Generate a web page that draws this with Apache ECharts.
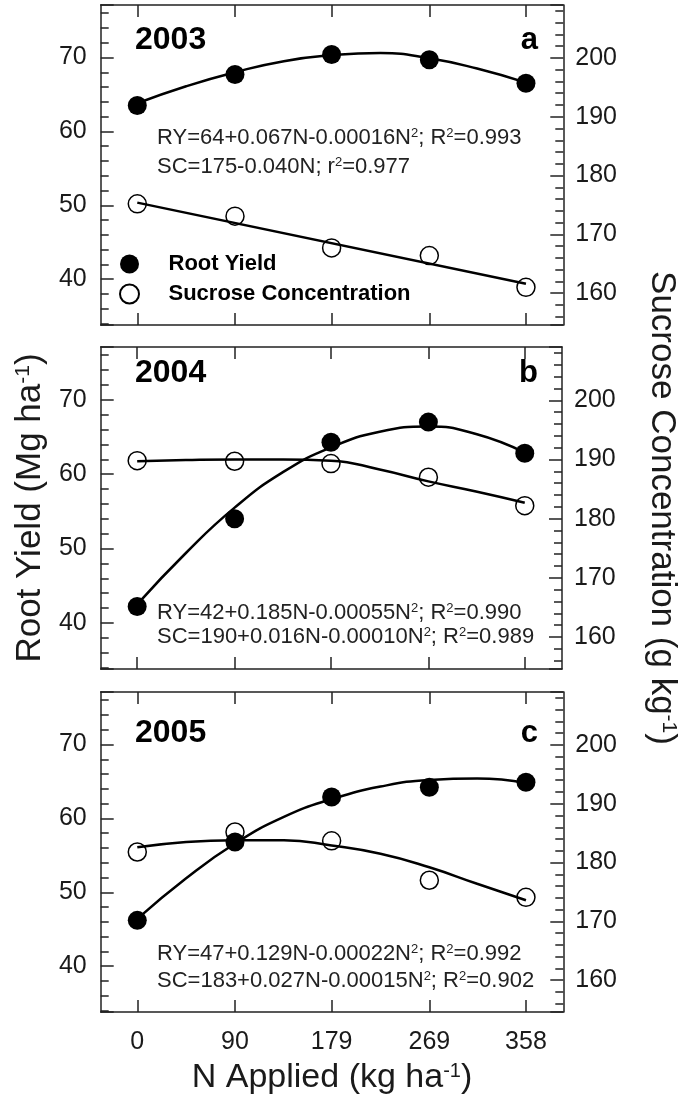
<!DOCTYPE html>
<html>
<head>
<meta charset="utf-8">
<script src="https://cdn.jsdelivr.net/npm/echarts@6/dist/echarts.min.js"></script>
<style>
  html, body { margin: 0; padding: 0; background: #fff; }
  #chart { width: 687px; height: 1098px; }
</style>
</head>
<body>
<div id="chart"></div>
<script>
// N rates (kg/ha) where the plots were measured
const nApplied = [0, 90, 179, 269, 358];
const fitN = [0, 45, 90, 135, 179, 224, 269, 313, 358];
const lineN = [0, 358];

// 2003
const rootYield2003 = [63.5, 67.7, 70.4, 69.7, 66.5];
const sucrose2003 = [175.2, 173.1, 167.7, 166.4, 161.0];
const rootYieldFit2003 = [63.8, 66.1, 68.0, 69.5, 70.3, 70.6, 69.9, 68.5, 66.6];
const sucroseFit2003 = [175.4, 161.6];

// 2004
const rootYield2004 = [42.2, 54.0, 64.3, 67.0, 62.8];
const sucrose2004 = [189.8, 189.7, 189.3, 187.0, 182.2];
const rootYieldFit2004 = [42.5, 49.4, 55.5, 60.3, 63.6, 65.7, 66.4, 65.4, 62.9];
const sucroseFit2004 = [189.7, 189.9, 190.0, 190.0, 189.8, 188.3, 186.3, 184.6, 182.7];

// 2005
const rootYield2005 = [46.2, 56.8, 62.9, 64.2, 64.9];
const sucrose2005 = [181.8, 185.2, 183.7, 177.0, 174.1];
const rootYieldFit2005 = [46.4, 51.9, 56.6, 60.2, 62.6, 64.3, 65.2, 65.4, 64.8];
const sucroseFit2005 = [182.6, 183.5, 183.8, 183.8, 182.9, 181.5, 179.2, 176.4, 173.6];

const years = ['2003', '2004', '2005'];
const panelLetters = ['a', 'b', 'c'];
const ryEquations = [
  '{n|RY=64+0.067N-0.00016N}{s|2}{n|; R}{s|2}{n|=0.993}',
  '{n|RY=42+0.185N-0.00055N}{s|2}{n|; R}{s|2}{n|=0.990}',
  '{n|RY=47+0.129N-0.00022N}{s|2}{n|; R}{s|2}{n|=0.992}'
];
const scEquations = [
  '{n|SC=175-0.040N; r}{s|2}{n|=0.977}',
  '{n|SC=190+0.016N-0.00010N}{s|2}{n|; R}{s|2}{n|=0.989}',
  '{n|SC=183+0.027N-0.00015N}{s|2}{n|; R}{s|2}{n|=0.902}'
];

const ryPoints = [rootYield2003, rootYield2004, rootYield2005];
const scPoints = [sucrose2003, sucrose2004, sucrose2005];
const ryFits = [rootYieldFit2003, rootYieldFit2004, rootYieldFit2005];
const scFits = [sucroseFit2003, sucroseFit2004, sucroseFit2005];
const scFitN = [lineN, fitN, fitN];

const FONT = 'Liberation Sans, Arial, Helvetica, sans-serif';
const INK = '#1a1a1a';
const panelTops = [5, 347, 692];
const panelHeights = [320, 322, 320];
const yearY = [40, 373, 733];
const eqY = [[138, 167], [613, 637], [954, 981]];

function zip(xs, ys) {
  return xs.map(function (x, i) { return [x, ys[i]]; });
}

function titleStyle(size) {
  return {
    rich: {
      t: { fontSize: size, color: INK, fontFamily: FONT },
      s: { fontSize: Math.round(size * 0.6), color: INK, fontFamily: FONT, verticalAlign: 'top' }
    }
  };
}

const axisLine = { show: true, onZero: false, lineStyle: { color: '#222', width: 1.5 } };
const tickLine = { color: '#222', width: 1.5 };

const grid = [];
const xAxis = [];
const yAxis = [];
const series = [];
const graphic = [];

for (let i = 0; i < 3; i++) {
  grid.push({ left: 100.7, right: 123.7, top: panelTops[i], height: panelHeights[i] });

  const last = i === 2;
  xAxis.push({
    type: 'value', gridIndex: i, position: 'bottom', min: -33.7, max: 392.4,
    axisLine: axisLine,
    axisTick: { show: true, inside: true, length: 12, customValues: nApplied, lineStyle: tickLine },
    axisLabel: { show: last, customValues: nApplied, margin: 18, fontSize: 25, color: INK, fontFamily: FONT },
    splitLine: { show: false },
    name: last ? '{t|N Applied (kg ha}{s|-1}{t|)}' : '',
    nameLocation: 'middle', nameGap: 49,
    nameTextStyle: titleStyle(34)
  });
  xAxis.push({
    type: 'value', gridIndex: i, position: 'top', min: -33.7, max: 392.4,
    axisLine: axisLine,
    axisTick: { show: true, inside: true, length: 12, customValues: nApplied, lineStyle: tickLine },
    axisLabel: { show: false, customValues: nApplied },
    splitLine: { show: false }
  });

  const middle = i === 1;
  yAxis.push({
    type: 'value', gridIndex: i, position: 'left', min: 33.8, max: 77.1,
    minInterval: 10, maxInterval: 10,
    axisLine: axisLine,
    axisTick: { show: true, inside: true, length: 13, lineStyle: tickLine },
    minorTick: { show: true, splitNumber: 5, length: 8, lineStyle: tickLine },
    axisLabel: { margin: 14, fontSize: 25, color: INK, fontFamily: FONT, showMinLabel: false, showMaxLabel: false },
    splitLine: { show: false },
    name: middle ? '{t|Root Yield (Mg ha}{s|-1}{t|)}' : '',
    nameLocation: 'middle', nameGap: 52,
    nameTextStyle: titleStyle(35)
  });
  yAxis.push({
    type: 'value', gridIndex: i, position: 'right', min: 154.6, max: 209.0,
    minInterval: 10, maxInterval: 10,
    axisLine: axisLine,
    axisTick: { show: true, inside: true, length: 13, lineStyle: tickLine },
    minorTick: { show: true, splitNumber: 5, length: 8, lineStyle: tickLine },
    axisLabel: { margin: 12, fontSize: 25, color: INK, fontFamily: FONT, showMinLabel: false, showMaxLabel: false },
    splitLine: { show: false },
    name: middle ? '{t|Sucrose Concentration (g kg}{s|-1}{t|)}' : '',
    nameLocation: 'middle', nameGap: 82, nameRotate: -90,
    nameTextStyle: titleStyle(35)
  });

  // open circles (sucrose) under the lines, filled circles (root yield) on top
  series.push({
    name: 'Sucrose Concentration', type: 'scatter',
    xAxisIndex: 2 * i, yAxisIndex: 2 * i + 1,
    data: zip(nApplied, scPoints[i]),
    symbol: 'circle', symbolSize: 18, z: 2,
    itemStyle: { color: '#fff', borderColor: '#000', borderWidth: 1.5, opacity: 1 }
  });
  series.push({
    type: 'line', xAxisIndex: 2 * i, yAxisIndex: 2 * i + 1,
    data: zip(scFitN[i], scFits[i]),
    smooth: true, showSymbol: false, z: 3, silent: true,
    lineStyle: { color: '#000', width: 2.5 }
  });
  series.push({
    type: 'line', xAxisIndex: 2 * i, yAxisIndex: 2 * i,
    data: zip(fitN, ryFits[i]),
    smooth: true, showSymbol: false, z: 3, silent: true,
    lineStyle: { color: '#000', width: 2.5 }
  });
  series.push({
    name: 'Root Yield', type: 'scatter',
    xAxisIndex: 2 * i, yAxisIndex: 2 * i,
    data: zip(nApplied, ryPoints[i]),
    symbol: 'circle', symbolSize: 19, z: 4,
    itemStyle: { color: '#000', opacity: 1 }
  });

  graphic.push({
    type: 'text', x: 135, y: yearY[i], z: 10,
    style: { text: years[i], fill: '#000', font: 'bold 32px ' + FONT, verticalAlign: 'middle', align: 'left' }
  });
  graphic.push({
    type: 'text', x: 538, y: yearY[i], z: 10,
    style: { text: panelLetters[i], fill: '#000', font: 'bold 31px ' + FONT, verticalAlign: 'middle', align: 'right' }
  });
  const eqRich = {
    n: { fontSize: 22, fontFamily: FONT, fill: '#222' },
    s: { fontSize: 13, fontFamily: FONT, fill: '#222', verticalAlign: 'top' }
  };
  graphic.push({
    type: 'text', x: 157, y: eqY[i][0], z: 10,
    style: { text: ryEquations[i], rich: eqRich, verticalAlign: 'middle', align: 'left' }
  });
  graphic.push({
    type: 'text', x: 157, y: eqY[i][1], z: 10,
    style: { text: scEquations[i], rich: eqRich, verticalAlign: 'middle', align: 'left' }
  });
}

const chart = echarts.init(document.getElementById('chart'), null, { renderer: 'canvas' });
chart.setOption({
  backgroundColor: '#fff',
  animation: false,
  grid: grid,
  xAxis: xAxis,
  yAxis: yAxis,
  legend: {
    data: ['Root Yield', 'Sucrose Concentration'],
    orient: 'vertical', left: 114, top: 248,
    itemWidth: 68, itemHeight: 19, itemGap: 8,
    selectedMode: false,
    textStyle: { fontSize: 22, fontWeight: 'bold', color: '#000', fontFamily: FONT }
  },
  graphic: graphic,
  series: series
});
</script>
</body>
</html>
